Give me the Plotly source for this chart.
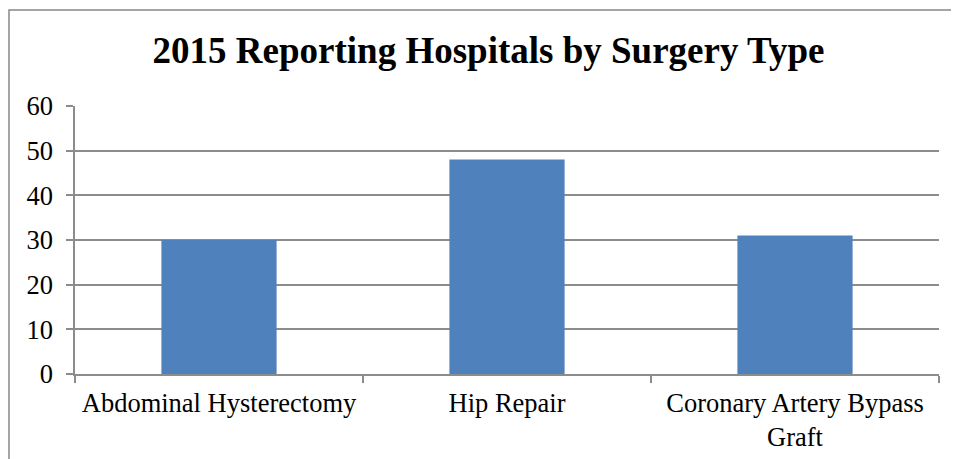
import plotly.graph_objects as go

categories = ["Abdominal Hysterectomy", "Hip Repair", "Coronary Artery Bypass<br>Graft"]
values = [30, 48, 31]
y_ticks = [0, 10, 20, 30, 40, 50, 60]
title_text = "2015 Reporting Hospitals by Surgery Type"

# page body adds an 8px offset; compensate so the chart lands where the reference has it
OFF = 8
W, H = 959, 459
L, R, T, B = 75 - OFF, 20 + OFF, 106 - OFF, 85 + OFF
pw = W - L - R
ph = H - T - B

fig = go.Figure(go.Bar(x=categories, y=values, marker=dict(color="#4F81BD", line=dict(width=0)), width=0.4))

grid = "#8C8C8C"
fig.update_layout(
    width=W, height=H,
    margin=dict(l=L, r=R, t=T, b=B),
    paper_bgcolor="white", plot_bgcolor="white",
    font=dict(family="Liberation Serif, Times New Roman, serif", color="black", size=26.5),
    title=dict(text="<b>" + title_text + "</b>", font=dict(size=37, family="Liberation Serif, serif", color="black"),
               x=(488.5 - OFF) / W, xref="container", xanchor="center",
               y=1 - (50.5 - OFF) / H, yref="container", yanchor="middle"),
    showlegend=False,
    xaxis=dict(type="category", showgrid=False, showline=True, linecolor=grid, linewidth=1.5,
               ticks="outside", tickson="boundaries", ticklen=7, tickcolor=grid, tickwidth=1.5,
               tickfont=dict(size=26.5), zeroline=False, ticklabelstandoff=4),
    yaxis=dict(range=[0, 60], tickvals=y_ticks, showgrid=True, gridcolor=grid, gridwidth=1.5,
               showline=True, linecolor=grid, linewidth=1.5, ticks="outside", ticklen=7,
               tickcolor=grid, tickwidth=1.5, tickfont=dict(size=26.5), zeroline=False,
               ticklabelstandoff=8),
    shapes=[dict(type="rect", xref="paper", yref="paper",
                 x0=(9 - OFF - L) / pw, x1=(W + 5 - L) / pw,
                 y0=-(H + 5 - T - ph) / ph, y1=(H - (10 - OFF) - B) / ph,
                 line=dict(color="#888888", width=1.5), fillcolor="rgba(0,0,0,0)", layer="below")],
)

fig.write_html("out.html")
